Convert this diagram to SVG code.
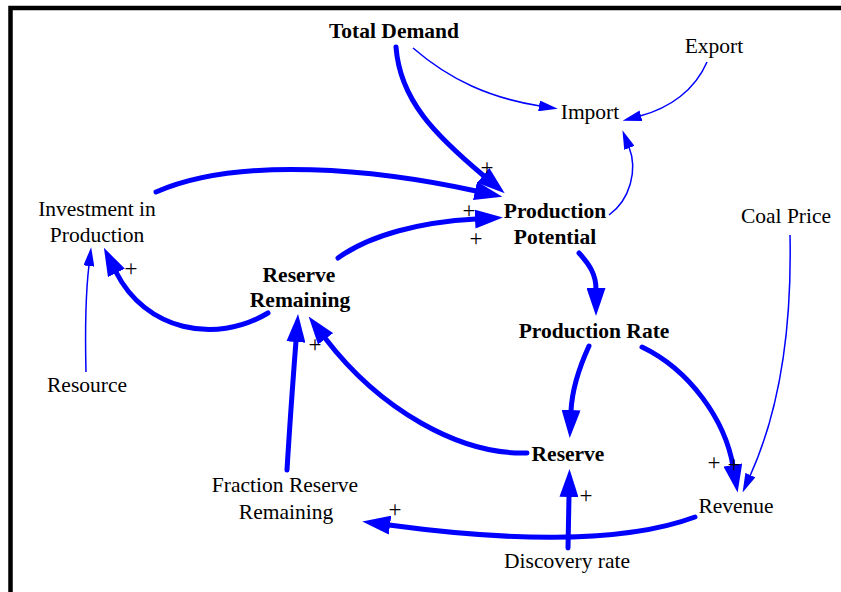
<svg xmlns="http://www.w3.org/2000/svg" width="841" height="592" viewBox="0 0 841 592">
<style>
.t{font-family:"Liberation Serif","Times New Roman",serif;font-size:21.5px;fill:#000;text-anchor:middle}
.b{font-weight:bold}
.p{font-family:"Liberation Serif","Times New Roman",serif;font-size:23px;fill:#000;text-anchor:middle}
.thick{fill:none;stroke:#0000ff;stroke-width:5;stroke-linecap:round}
.thin{fill:none;stroke:#0000ff;stroke-width:1.5}
</style>
<defs>
<marker id="ah" markerUnits="userSpaceOnUse" viewBox="0 -9.5 28 19" refX="1" refY="0" markerWidth="28" markerHeight="19" orient="auto">
<path d="M0,-9.5 L28,0 L0,9.5 z" fill="#0000ff"/>
</marker>
<marker id="as" markerUnits="userSpaceOnUse" viewBox="0 -5.5 19 11" refX="1" refY="0" markerWidth="19" markerHeight="11" orient="auto">
<path d="M0,-5.5 L19,0 L0,5.5 z" fill="#0000ff"/>
</marker>
</defs>
<rect width="841" height="592" fill="#fff"/>
<path d="M10.5,592 V8 H841" fill="none" stroke="#000" stroke-width="4.5"/>
<g id="connectors">
<path class="thick" marker-end="url(#ah)" d="M396,47 C400,100 435,135 484,176"/>
<path class="thick" marker-end="url(#ah)" d="M156,192 C240,155 380,170 476,191"/>
<path class="thick" marker-end="url(#ah)" d="M338,258 C370,235 420,222 476,219"/>
<path class="thin" marker-end="url(#as)" d="M609,215 C630,200 638,170 629,147"/>
<path class="thin" marker-end="url(#as)" d="M413,48 C450,80 490,98 540,106"/>
<path class="thin" marker-end="url(#as)" d="M707,62 C695,90 670,108 640,116"/>
<path class="thick" marker-end="url(#ah)" d="M579,253 C590,265 596,275 596,289"/>
<path class="thick" marker-end="url(#ah)" d="M268,313 C215,345 145,330 116,272"/>
<path class="thin" marker-end="url(#as)" d="M86,372 C85,330 86,290 89,265"/>
<path class="thick" marker-end="url(#ah)" d="M589,346 C578,370 572,390 571,411"/>
<path class="thick" marker-end="url(#ah)" d="M642,347 C690,370 725,420 733,466"/>
<path class="thin" marker-end="url(#as)" d="M790,235 C792,330 780,410 750,476"/>
<path class="thick" marker-end="url(#ah)" d="M527,453 C460,455 380,410 325,338"/>
<path class="thick" marker-end="url(#ah)" d="M287,470 C290,420 293,380 296,341"/>
<path class="thick" marker-end="url(#ah)" d="M695,517 C620,545 500,540 389,525"/>
<path class="thick" marker-end="url(#ah)" d="M568,548 L569,496"/>
</g>
<g id="polarities">
<text class="p" x="487" y="175">+</text>
<text class="p" x="469" y="218">+</text>
<text class="p" x="476" y="246">+</text>
<text class="p" x="131" y="276">+</text>
<text class="p" x="315" y="352">+</text>
<text class="p" x="714" y="470">+</text>
<text class="p" x="734" y="472">+</text>
<text class="p" x="586" y="503">+</text>
<text class="p" x="395" y="517">+</text>
</g>
<g id="total-demand"><text class="t b" x="394" y="38">Total Demand</text></g>
<g id="export"><text class="t" x="714" y="53">Export</text></g>
<g id="import"><text class="t" x="590" y="119">Import</text></g>
<g id="production-potential"><text class="t b" x="555" y="218">Production</text><text class="t b" x="555" y="244">Potential</text></g>
<g id="investment-in-production"><text class="t" x="97" y="216">Investment in</text><text class="t" x="97" y="242">Production</text></g>
<g id="coal-price"><text class="t" x="786" y="223">Coal Price</text></g>
<g id="reserve-remaining"><text class="t b" x="299" y="282">Reserve</text><text class="t b" x="300" y="307">Remaining</text></g>
<g id="production-rate"><text class="t b" x="594" y="338">Production Rate</text></g>
<g id="resource"><text class="t" x="87" y="392">Resource</text></g>
<g id="reserve"><text class="t b" x="568" y="461">Reserve</text></g>
<g id="fraction-reserve-remaining"><text class="t" x="285" y="492">Fraction Reserve</text><text class="t" x="286" y="519">Remaining</text></g>
<g id="revenue"><text class="t" x="736" y="513">Revenue</text></g>
<g id="discovery-rate"><text class="t" x="567" y="568">Discovery rate</text></g>
</svg>
